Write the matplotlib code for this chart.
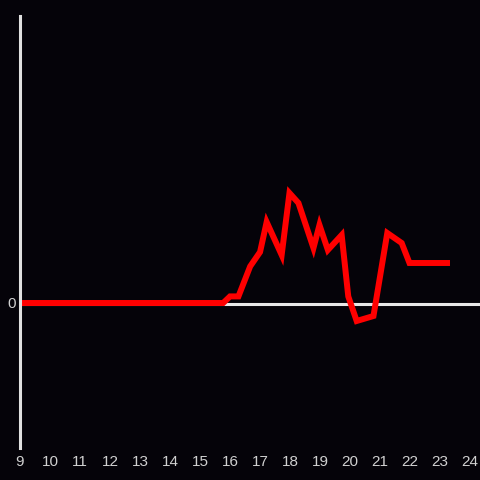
import numpy as np
import matplotlib.pyplot as plt

# data
hours = [9.0, 15.77, 16.0, 16.28, 16.67, 17.0, 17.22, 17.72, 17.98, 18.28,
         18.78, 18.98, 19.26, 19.72, 19.94, 20.22, 20.78, 21.24, 21.72, 21.98, 23.33]
values = [0, 0, 6.6, 6.6, 36.6, 51, 81, 48, 110, 100,
          55, 78, 53, 68, 6.6, -18, -13, 70, 60, 40, 40]
xticks = list(range(9, 25))

bg = '#050309'
fig = plt.figure(figsize=(4.8, 4.8), dpi=100, facecolor=bg)
ax = fig.add_axes([20/480, 32/480, 460/480, 432/480], facecolor=bg)

ax.axhline(-0.5, color='#e8e8e8', lw=2.2, zorder=1)
ax.plot(hours, values, color='#ff0000', lw=4.3, solid_joinstyle='miter',
        solid_capstyle='butt', zorder=2)

ax.set_xlim(9, 24.33)
ax.set_ylim(-145, 287)

for s in ['top', 'right', 'bottom']:
    ax.spines[s].set_visible(False)
ax.spines['left'].set_color('#e0e0e0')
ax.spines['left'].set_linewidth(2.2)

ax.set_xticks(xticks)
ax.set_xticklabels([str(t) for t in xticks])
ax.set_yticks([0])
ax.set_yticklabels(['0'])
ax.tick_params(length=0, colors='#d0d0d0', labelsize=11, pad=5)
for lab in ax.get_xticklabels() + ax.get_yticklabels():
    lab.set_family('Liberation Sans')
ax.tick_params(axis='y', pad=3)

fig.savefig('out.png', dpi=100, facecolor=bg)
